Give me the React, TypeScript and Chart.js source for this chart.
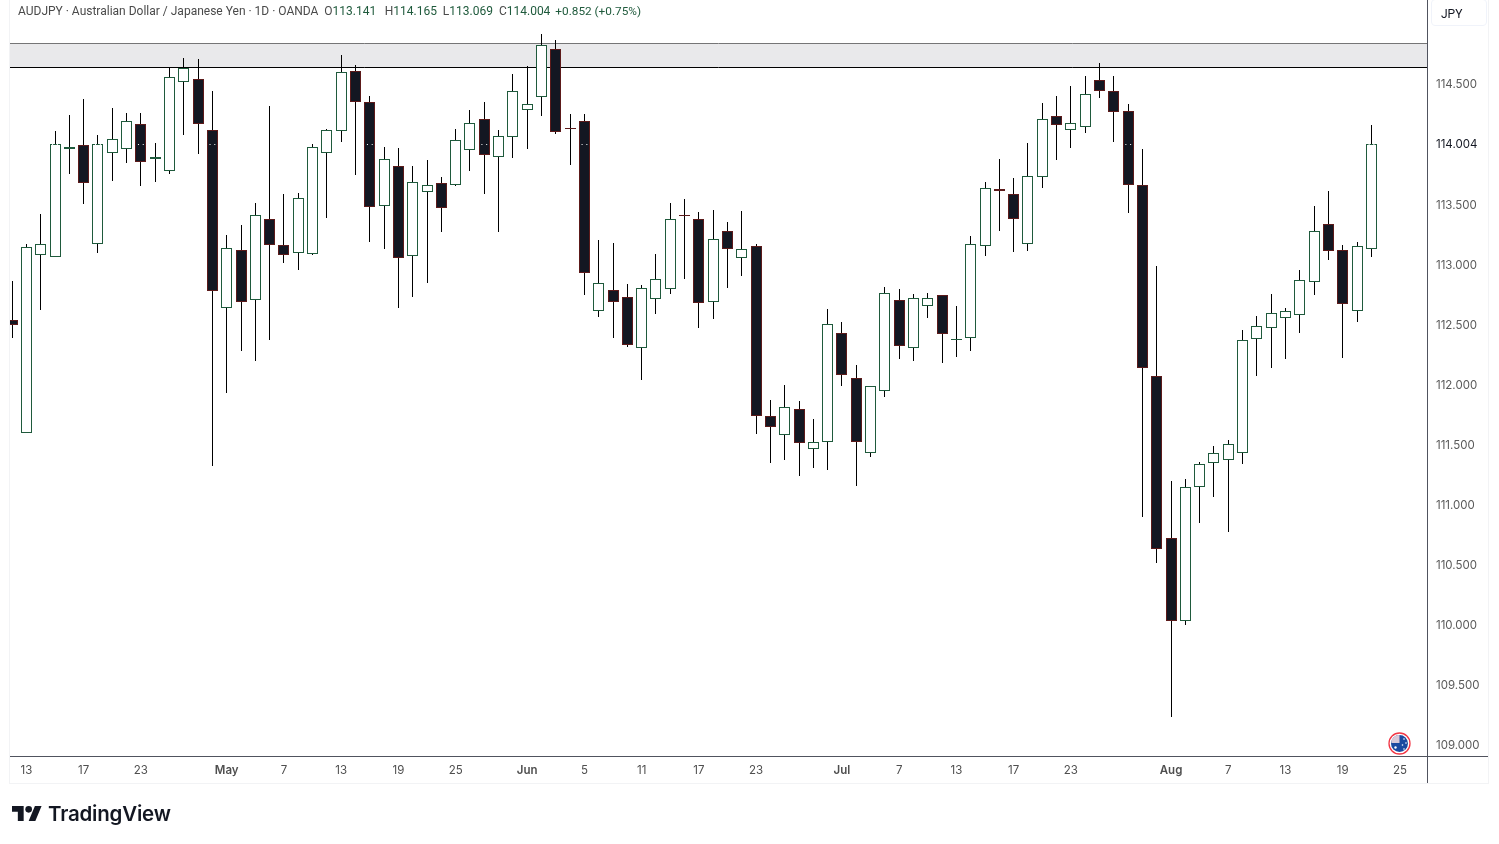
import React, { useEffect, useRef } from "react";
import { Chart, registerables } from "chart.js";

Chart.register(...registerables);

const opens = [112.540,111.608,113.090,113.073,113.971,113.998,113.182,113.939,113.973,114.172,113.888,113.789,114.530,114.547,114.122,112.649,113.123,112.715,113.381,113.165,113.107,113.098,113.939,114.122,114.614,114.356,113.498,113.823,113.082,113.615,113.681,113.673,113.964,114.214,113.906,114.072,114.297,114.406,114.797,114.139,114.197,112.624,112.790,112.732,112.316,112.724,112.807,113.415,113.381,112.699,113.281,113.065,113.157,111.741,111.591,111.799,111.475,111.533,112.432,112.057,111.441,111.958,112.707,112.316,112.665,112.749,112.381,112.399,113.165,113.629,113.590,113.182,113.739,114.239,114.131,114.156,114.539,114.447,114.281,113.664,112.074,110.725,110.042,111.158,111.358,111.383,111.441,112.391,112.482,112.565,112.590,112.865,113.340,113.123,112.624,113.141];
const highs = [112.868,113.176,113.425,114.117,114.250,114.383,114.083,114.308,114.266,114.266,114.017,114.649,114.724,114.716,114.450,113.251,113.334,113.517,114.325,113.592,113.600,114.008,114.133,114.749,114.666,114.408,113.983,113.975,113.825,113.875,113.734,114.133,114.291,114.358,114.125,114.591,114.658,114.924,114.874,114.258,114.258,113.209,113.184,112.843,112.834,113.092,113.517,113.550,113.442,113.459,113.359,113.450,113.176,111.877,112.002,111.868,111.719,112.634,112.526,112.168,111.991,112.818,112.801,112.759,112.768,112.749,112.659,113.242,113.692,113.883,113.725,114.017,114.350,114.408,114.491,114.575,114.683,114.575,114.341,113.967,112.993,111.202,111.219,111.361,111.494,111.544,112.460,112.576,112.759,112.643,112.959,113.492,113.617,113.167,113.192,114.165];
const lows = [112.396,111.608,112.629,113.073,113.761,113.511,113.103,113.703,113.853,113.661,113.694,113.761,114.086,113.928,111.330,111.938,112.287,112.204,112.379,113.020,112.962,113.082,113.395,114.027,113.753,113.190,113.137,112.645,112.737,112.853,113.278,113.656,113.784,113.596,113.278,113.894,113.969,114.244,114.094,113.836,112.754,112.570,112.396,112.321,112.046,112.595,112.762,112.887,112.479,112.554,112.812,112.912,111.596,111.355,111.380,111.246,111.313,111.296,111.996,111.163,111.405,111.904,112.221,112.204,112.562,112.187,112.237,112.287,113.078,113.286,113.112,113.120,113.644,113.878,113.978,114.102,114.394,114.027,113.436,110.905,110.522,109.240,110.006,110.855,111.072,110.780,111.346,112.079,112.146,112.221,112.437,112.754,113.045,112.229,112.529,113.069];
const closes = [112.504,113.148,113.173,114.006,113.979,113.689,114.006,114.047,114.197,113.864,113.896,114.564,114.639,114.181,112.790,113.140,112.699,113.415,113.173,113.090,113.556,113.981,114.122,114.605,114.364,113.490,113.881,113.065,113.689,113.664,113.481,114.039,114.181,113.923,114.072,114.447,114.339,114.830,114.114,114.138,112.940,112.848,112.699,112.341,112.807,112.882,113.381,113.414,112.690,113.215,113.140,113.132,111.749,111.658,111.816,111.525,111.525,112.507,112.091,111.533,111.991,112.765,112.332,112.724,112.724,112.432,112.382,113.173,113.640,113.621,113.390,113.739,114.214,114.172,114.181,114.422,114.455,114.281,113.673,112.149,110.642,110.042,111.150,111.341,111.433,111.508,112.374,112.490,112.599,112.615,112.873,113.281,113.123,112.682,113.157,114.004];

const xTickIndex = [1,5,9,15,19,23,27,31,36,40,44,48,52,58,62,66,70,74,81,85,89,93,97];
const xTickLabels = ["13","17","23","May","7","13","19","25","Jun","5","11","17","23","Jul","7","13","17","23","Aug","7","13","19","25"];
const monthLabels = ["May","Jun","Jul","Aug"];
const yTicks = [109,109.5,110,110.5,111,111.5,112,112.5,113,113.5,114.004,114.5];
const lastPrice = 114.004;
const zoneTop = 114.845;
const zoneBottom = 114.645;
const xRange = [-0.1468, 98.889];
const yRange = [108.9126, 115.2074];

const FONT = "Roboto, sans-serif";
const TICK_FONT = "Inter, sans-serif";
const UP = "#1f5a3c";
const DOWN_EDGE = "#5c1a1a";
const DOWN_FILL = "#131722";
const AXIS = "#50535e";
const EDGE = "#f2f3f5";

const snapPlugin = {
  id: "snap",
  afterDatasetsUpdate(chart: any) {
    chart.data.datasets.forEach((ds: any, di: number) => {
      const meta = chart.getDatasetMeta(di);
      if (ds.type === "line") {
        meta.data.forEach((p: any) => { p.y = Math.floor(p.y) + 0.5; });
        return;
      }
      meta.data.forEach((el: any) => {
        el.x = Math.floor(el.x) + 0.5;
        const a = Math.min(el.y, el.base);
        const b = Math.max(el.y, el.base);
        if (ds.label === "wick") {
          el.y = Math.round(a);
          el.base = Math.round(b);
        } else {
          el.y = Math.floor(a);
          el.base = Math.floor(b) + 1;
        }
      });
    });
  },
};

const framePlugin = {
  id: "frame",
  beforeDraw(chart: any) {
    const c = chart.ctx;
    c.save();
    c.fillStyle = "#ffffff";
    c.fillRect(0, 0, chart.width, chart.height);
    c.restore();
  },
  afterDraw(chart: any) {
    const c = chart.ctx;
    c.save();
    c.fillStyle = EDGE;
    c.fillRect(9, 0, 1, 784);
    c.fillRect(9, 783, 1480, 1);
    c.fillRect(1488, 0, 1, 784);
    c.fillStyle = AXIS;
    c.fillRect(1427, 0, 1, 783);
    c.fillRect(10, 756, 1478, 1);
    c.restore();
  },
};

const zeroPad = (s: any) => {
  s.paddingTop = 0; s.paddingBottom = 0; s.paddingLeft = 0; s.paddingRight = 0;
};

const green = { color: UP };

export default function App() {
  const ref = useRef<HTMLCanvasElement>(null);
  useEffect(() => {
    document.body.style.margin = "0";
    const idx = opens.map((_, i) => i);
    const chart = new Chart(ref.current as HTMLCanvasElement, {
      type: "bar",
      data: {
        datasets: [
          {
            type: "line", label: "zoneTop", order: 5,
            data: [{ x: xRange[0], y: zoneTop }, { x: xRange[1], y: zoneTop }],
            borderColor: "#000000", borderWidth: 1, pointRadius: 0, fill: false,
          },
          {
            type: "line", label: "zoneBottom", order: 4,
            data: [{ x: xRange[0], y: zoneBottom }, { x: xRange[1], y: zoneBottom }],
            borderColor: "#000000", borderWidth: 1, pointRadius: 0,
            fill: "-1", backgroundColor: "#e9e9eb",
          },
          {
            type: "bar", label: "wick", order: 3, grouped: false,
            data: idx.map((i) => ({ x: i, y: [lows[i], highs[i]] })),
            backgroundColor: "#000000", barThickness: 1, borderWidth: 0, inflateAmount: 0,
          },
          {
            type: "bar", label: "body", order: 2, grouped: false,
            data: idx.map((i) => ({ x: i, y: [opens[i], closes[i]] })),
            barThickness: 11, borderWidth: 1, borderSkipped: false, inflateAmount: 0,
            backgroundColor: idx.map((i) => (closes[i] >= opens[i] ? "#ffffff" : DOWN_FILL)),
            borderColor: idx.map((i) => (closes[i] >= opens[i] ? UP : DOWN_EDGE)),
          },
          {
            type: "line", label: "last", order: 1,
            data: [{ x: xRange[0], y: lastPrice }, { x: xRange[1], y: lastPrice }],
            borderColor: "#ffffff", borderWidth: 1, borderDash: [1, 3.77], borderDashOffset: 0.81, pointRadius: 0, fill: false,
          },
        ],
      } as any,
      options: {
        responsive: false,
        animation: false,
        events: [],
        layout: { padding: { left: 10, right: 11, top: 0, bottom: 61 } },
        plugins: { legend: { display: false }, tooltip: { enabled: false }, title: { display: false } },
        scales: {
          x: {
            type: "linear", min: xRange[0], max: xRange[1], offset: false,
            grid: { display: false, drawTicks: false }, border: { display: false },
            afterBuildTicks: (s: any) => { s.ticks = xTickIndex.map((v) => ({ value: v })); },
            afterFit: (s: any) => { s.height = 27; zeroPad(s); },
            ticks: {
              autoSkip: false, maxRotation: 0, padding: 8, color: "#4f4f4f",
              callback: (v: any) => xTickLabels[xTickIndex.indexOf(v)],
              font: (ctx: any) => {
                const l = xTickLabels[xTickIndex.indexOf(ctx.tick?.value)];
                return { family: TICK_FONT, size: 11.5, weight: monthLabels.includes(l) ? "600" : "normal" };
              },
            },
          },
          y: {
            type: "linear", position: "right", min: yRange[0], max: yRange[1],
            grid: { display: false, drawTicks: false }, border: { display: false },
            afterBuildTicks: (s: any) => { s.ticks = yTicks.map((v) => ({ value: v })); },
            afterFit: (s: any) => { s.width = 61; zeroPad(s); },
            ticks: {
              autoSkip: false, padding: 9,
              callback: (v: any) => Number(v).toFixed(3),
              color: (ctx: any) => (ctx.tick?.value === lastPrice ? "#131722" : "#5a5a5a"),
              font: () => ({ family: TICK_FONT, size: 11.5, weight: "normal" }),
            },
          },
        },
      } as any,
      plugins: [snapPlugin, framePlugin] as any,
    });
    return () => chart.destroy();
  }, []);

  return (
    <div style={{ position: "relative", width: 1499, height: 844, overflow: "hidden", fontFamily: FONT, background: "#fff" }}>
      <canvas ref={ref} width={1499} height={844} style={{ display: "block", width: 1499, height: 844 }} />
      <div style={{ position: "absolute", left: 18, top: 4, fontSize: 12, lineHeight: "14px", color: "#4a4a4a", whiteSpace: "pre" }}>
        {"AUDJPY · Australian Dollar / Japanese Yen · 1D · OANDA  O"}
        <span style={green}>113.141</span>{"  "}<span style={{ marginLeft: 2.5 }}>H</span><span style={green}>114.165</span>{"  L"}
        <span style={green}>113.069</span>{"  C"}<span style={green}>114.004</span>{"  "}
        <span style={{ color: UP, fontSize: 11.8, marginLeft: -1 }}>+0.852 (+0.75%)</span>
      </div>
      <div style={{ position: "absolute", left: 1431, top: -1, width: 54, height: 25, border: "1px solid #f0f3fa", borderRadius: 4, boxSizing: "content-box", fontSize: 12, lineHeight: "28px", color: "#131722", textIndent: 9 }}>JPY</div>
      <svg style={{ position: "absolute", left: 1388, top: 732 }} width="23" height="23" viewBox="0 0 23 23">
        <circle cx="11.5" cy="11.5" r="10.5" fill="#fff" stroke="#f23645" strokeWidth="1.3" />
        <circle cx="11.5" cy="11.5" r="8.5" fill="#1c4aa0" />
        <path d="M3.5 8.5 A8.5 8.5 0 0 1 11.5 3 V11 H3.5Z" fill="#d8c8d8" />
        <circle cx="16" cy="7" r="0.8" fill="#fff" /><circle cx="18" cy="11" r="0.8" fill="#fff" />
        <circle cx="14.5" cy="13" r="0.8" fill="#fff" /><circle cx="16" cy="17" r="0.8" fill="#fff" />
        <circle cx="7.5" cy="15.5" r="1.2" fill="#fff" />
      </svg>
      <svg style={{ position: "absolute", left: 12, top: 806 }} width="30" height="15" viewBox="0 4 36 18">
        <path d="M14 22H7V11H0V4h14v18zM28 22h-8l7.5-18h8L28 22z" fill="#131722" />
        <circle cx="20" cy="8" r="4" fill="#131722" />
      </svg>
      <div style={{ position: "absolute", left: 48, top: 801, fontFamily: "Inter, sans-serif", fontWeight: 600, fontSize: 20.5, lineHeight: "26px", color: "#131722", letterSpacing: -0.2 }}>TradingView</div>
    </div>
  );
}
